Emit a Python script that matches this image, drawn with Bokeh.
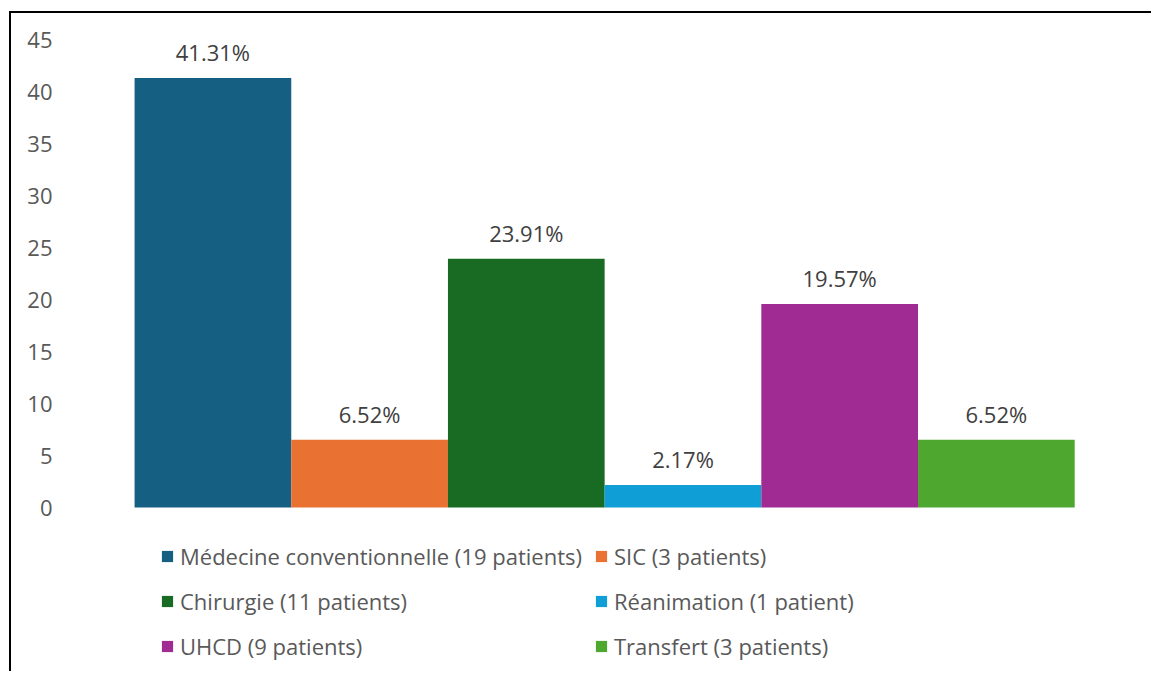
from bokeh.plotting import figure
from bokeh.models import ColumnDataSource, LabelSet, Legend, LegendItem, FixedTicker, Range1d
from bokeh.core.properties import value
from bokeh.embed import file_html
from bokeh.resources import INLINE

categories = [
    "Médecine conventionnelle (19 patients)",
    "SIC (3 patients)",
    "Chirurgie (11 patients)",
    "Réanimation (1 patient)",
    "UHCD (9 patients)",
    "Transfert (3 patients)",
]
percentages = [41.31, 6.52, 23.91, 2.17, 19.57, 6.52]
colors = ["#156082", "#E97132", "#196B24", "#0F9ED5", "#A02B93", "#4EA72E"]
y_ticks = [0, 5, 10, 15, 20, 25, 30, 35, 40, 45]

FONT = "Open Sans"
FS = "22px"

positions = list(range(len(categories)))
labels = [f"{v:.2f}%" for v in percentages]

src = ColumnDataSource(dict(x=positions, top=percentages, color=colors,
                            cat=categories, label=labels))

# frame spans from value 45 (top) down past 0 to leave room for the legend
PX_PER_UNIT = 468 / 45.0
p = figure(width=1142, height=660, output_backend="svg", toolbar_location=None,
           x_axis_location=None,
           x_range=Range1d(-0.96, 5.92), y_range=Range1d(-166 / PX_PER_UNIT, 45),
           min_border_left=51, min_border_top=26, min_border_bottom=0,
           min_border_right=13)
p.styles = {"border-top": "2px solid black", "border-left": "2px solid black",
            "margin-top": "11px", "margin-left": "9px"}
p.outline_line_color = None
p.background_fill_color = "white"
p.xgrid.visible = False
p.ygrid.visible = False

ya = p.yaxis[0]
ya.ticker = FixedTicker(ticks=y_ticks)
ya.axis_line_color = None
ya.major_tick_line_color = None
ya.minor_tick_line_color = None
ya.major_tick_out = 0
ya.major_tick_in = 0
ya.major_label_standoff = 10
ya.major_label_text_font = FONT
ya.major_label_text_font_size = FS
ya.major_label_text_color = "#595959"

r = p.vbar(x="x", top="top", width=1.0, bottom=0, fill_color="color",
           line_color=None, source=src)

lbl = LabelSet(x="x", y="top", text="label", source=src, y_offset=17,
               text_align="center", text_baseline="alphabetic",
               text_font=value(FONT), text_font_size=value(FS), text_color="#404040")
p.add_layout(lbl)

def make_legend(idx, loc):
    lg = Legend(items=[LegendItem(label=categories[i], renderers=[r], index=i) for i in idx],
                location=loc)
    lg.border_line_color = None
    lg.background_fill_alpha = 0
    lg.padding = 0
    lg.margin = 0
    lg.spacing = 15
    lg.glyph_height = 14
    lg.glyph_width = 14
    lg.label_height = 20
    lg.label_standoff = 6
    lg.label_text_font = FONT
    lg.label_text_font_size = FS
    lg.label_text_color = "#595959"
    lg.label_text_baseline = "middle"
    return lg

p.add_layout(make_legend([0, 2, 4], (98, 12)))
p.add_layout(make_legend([1, 3, 5], (532, 12)))

open("out.html", "w").write(file_html(p, INLINE))
